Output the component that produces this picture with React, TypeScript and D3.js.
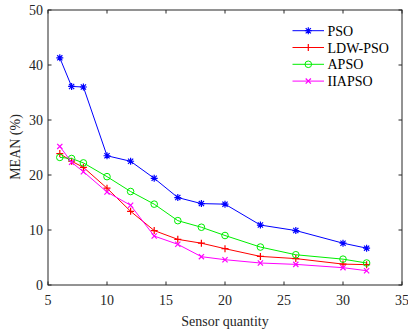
import React from "react";
import * as d3 from "d3";

const xValues = [6, 7, 8, 10, 12, 14, 16, 18, 20, 23, 26, 30, 32];
const psoValues = [41.3, 36.1, 36.0, 23.5, 22.5, 19.4, 15.9, 14.8, 14.7, 10.9, 9.9, 7.6, 6.7];
const ldwValues = [23.9, 22.5, 21.4, 17.6, 13.4, 9.9, 8.3, 7.6, 6.6, 5.2, 4.8, 3.8, 3.7];
const apsoValues = [23.2, 23.0, 22.2, 19.7, 17.0, 14.7, 11.7, 10.5, 9.0, 6.9, 5.5, 4.7, 4.0];
const iiapsoValues = [25.2, 22.3, 20.6, 16.9, 14.5, 8.9, 7.4, 5.15, 4.6, 4.0, 3.75, 3.15, 2.6];
const seriesNames = ["PSO", "LDW-PSO", "APSO", "IIAPSO"];
const seriesColors = ["#0000ff", "#ff0000", "#00ee00", "#ff00ff"];
const seriesMarkers = ["star", "plus", "circle", "cross"];
const xTicks = [5, 10, 15, 20, 25, 30, 35];
const yTicks = [0, 10, 20, 30, 40, 50];

const W = 408, H = 333;
const left = 48, right = 402, top = 10, bottom = 285;
const font = "Liberation Serif, Times New Roman, serif";
const axisColor = "#262626";

function Marker({ type, x, y, color }: { type: string; x: number; y: number; color: string }) {
  const s = 3.5;
  if (type === "circle") return <circle cx={x} cy={y} r={3.3} fill="none" stroke={color} strokeWidth={1} />;
  if (type === "plus")
    return <path d={`M${x - s},${y}H${x + s}M${x},${y - s}V${y + s}`} stroke={color} strokeWidth={1.2} />;
  if (type === "cross")
    return <path d={`M${x - 2.6},${y - 2.6}L${x + 2.6},${y + 2.6}M${x - 2.6},${y + 2.6}L${x + 2.6},${y - 2.6}`} stroke={color} strokeWidth={1.2} />;
  const d = 2.6;
  return (
    <path
      d={`M${x - s},${y}H${x + s}M${x},${y - s}V${y + s}M${x - d},${y - d}L${x + d},${y + d}M${x - d},${y + d}L${x + d},${y - d}`}
      stroke={color}
      strokeWidth={1.2}
    />
  );
}

export default function App() {
  const x = d3.scaleLinear().domain([5, 35]).range([left, right]);
  const y = d3.scaleLinear().domain([0, 50]).range([bottom, top]);
  const all = [psoValues, ldwValues, apsoValues, iiapsoValues];
  const line = d3
    .line<number>()
    .x((_, i) => x(xValues[i]))
    .y((v) => y(v));
  const txt = { fontFamily: font, fontSize: "14px" };

  return (
    <svg width={W} height={H} style={{ position: "absolute", left: 0, top: 0, background: "#fff" }}>
      <rect x={0} y={0} width={W} height={H} fill="#fff" />
      {all.map((vals, si) => (
        <g key={si}>
          <path d={line(vals) || ""} fill="none" stroke={seriesColors[si]} strokeWidth={1} />
          {vals.map((v, i) => (
            <Marker key={i} type={seriesMarkers[si]} x={x(xValues[i])} y={y(v)} color={seriesColors[si]} />
          ))}
        </g>
      ))}
      <rect x={left} y={top} width={right - left} height={bottom - top} fill="none" stroke={axisColor} strokeWidth={1} />
      {xTicks.map((t) => (
        <g key={t}>
          <line x1={x(t)} x2={x(t)} y1={bottom} y2={bottom - 3.5} stroke={axisColor} />
          <line x1={x(t)} x2={x(t)} y1={top} y2={top + 3.5} stroke={axisColor} />
          <text x={x(t)} y={305} textAnchor="middle" style={txt} fill={axisColor}>
            {t}
          </text>
        </g>
      ))}
      {yTicks.map((t) => (
        <g key={t}>
          <line x1={left} x2={left + 3.5} y1={y(t)} y2={y(t)} stroke={axisColor} />
          <line x1={right} x2={right - 3.5} y1={y(t)} y2={y(t)} stroke={axisColor} />
          <text x={43} y={y(t) + 5} textAnchor="end" style={txt} fill={axisColor}>
            {t}
          </text>
        </g>
      ))}
      <text x={225} y={326} textAnchor="middle" style={txt} fill={axisColor}>
        Sensor quantity
      </text>
      <text
        transform={`translate(20,${147}) rotate(-90)`}
        textAnchor="middle"
        style={txt}
        fill={axisColor}
      >
        MEAN (%)
      </text>
      {seriesNames.map((n, i) => {
        const ly = 30.7 + i * 16.8;
        return (
          <g key={n}>
            <line x1={292.5} x2={324} y1={ly} y2={ly} stroke={seriesColors[i]} strokeWidth={1} />
            <Marker type={seriesMarkers[i]} x={308.3} y={ly} color={seriesColors[i]} />
            <text x={327.5} y={ly + 5} style={txt} fill="#000">
              {n}
            </text>
          </g>
        );
      })}
    </svg>
  );
}
